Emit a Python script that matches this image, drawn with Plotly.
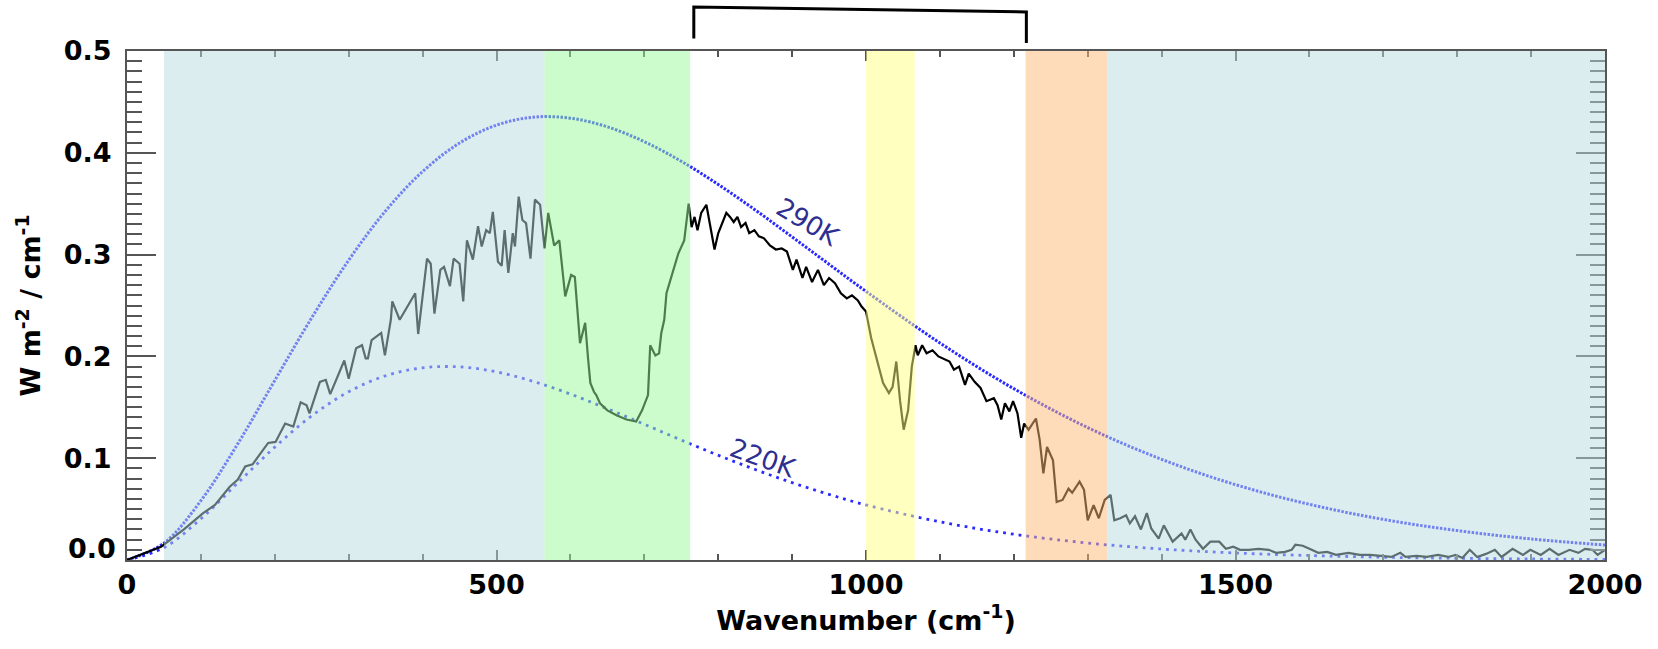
import plotly.graph_objects as go

# ---------------- data ----------------
wavenumber = [0, 46, 77, 103, 119, 139, 150, 160, 170, 181, 191, 201, 214, 225, 235, 243, 247,
              261, 269, 275, 294, 300, 310, 318, 323, 326, 331, 344, 349, 357, 359, 369, 390,
              394, 406, 411, 416, 424, 429, 437, 442, 450, 455, 460, 468, 475, 480, 486, 491,
              495, 502, 507, 511, 516, 522, 525, 530, 535, 540, 546, 552, 559, 565, 570, 578,
              585, 593, 601, 606, 613, 620, 624, 627, 632, 635, 640, 650, 663, 676, 689, 697,
              705, 708, 715, 720, 723, 727, 730, 738, 746, 754, 760, 764, 768, 772, 777, 784,
              787, 795, 800, 811, 816, 821, 826, 831, 837, 842, 849, 855, 862, 870, 878, 886,
              893, 901, 906, 914, 919, 927, 935, 943, 950, 958, 966, 974, 981, 989, 994, 1000,
              1007, 1015, 1023, 1031, 1036, 1041, 1046, 1051, 1057, 1062, 1067, 1070, 1076,
              1082, 1090, 1098, 1106, 1113, 1119, 1126, 1134, 1139, 1147, 1155, 1163, 1173,
              1178, 1183, 1188, 1194, 1199, 1205, 1210, 1214, 1220, 1230, 1235, 1240, 1245,
              1253, 1258, 1266, 1274, 1279, 1289, 1295, 1300, 1308, 1315, 1323, 1331, 1336,
              1344, 1352, 1357, 1364, 1372, 1380, 1386, 1396, 1403, 1415, 1427, 1432, 1439,
              1446, 1456, 1466, 1478, 1487, 1497, 1506, 1518, 1531, 1545, 1555, 1567, 1576,
              1581, 1591, 1603, 1612, 1624, 1636, 1653, 1668, 1682, 1697, 1711, 1723, 1730,
              1745, 1759, 1774, 1788, 1798, 1807, 1817, 1827, 1839, 1851, 1860, 1875, 1889,
              1899, 1913, 1925, 1937, 1952, 1964, 1973, 1983, 1990, 2000]
olr_spectrum = [0.0, 0.013, 0.030, 0.046, 0.054, 0.072, 0.079, 0.092, 0.094, 0.105, 0.115, 0.116,
                0.134, 0.131, 0.155, 0.152, 0.144, 0.175, 0.177, 0.163, 0.196, 0.178, 0.208,
                0.211, 0.198, 0.198, 0.216, 0.223, 0.201, 0.236, 0.254, 0.236, 0.262, 0.222,
                0.296, 0.291, 0.242, 0.285, 0.288, 0.269, 0.296, 0.291, 0.254, 0.314, 0.295,
                0.328, 0.308, 0.324, 0.321, 0.342, 0.293, 0.289, 0.324, 0.282, 0.321, 0.308,
                0.357, 0.334, 0.331, 0.296, 0.354, 0.349, 0.306, 0.341, 0.309, 0.314, 0.259,
                0.280, 0.278, 0.213, 0.233, 0.197, 0.174, 0.165, 0.162, 0.154, 0.147, 0.142,
                0.138, 0.136, 0.147, 0.162, 0.211, 0.201, 0.203, 0.223, 0.236, 0.262, 0.282,
                0.301, 0.314, 0.350, 0.327, 0.337, 0.324, 0.341, 0.349, 0.337, 0.305, 0.321,
                0.341, 0.337, 0.332, 0.337, 0.327, 0.331, 0.321, 0.324, 0.318, 0.316, 0.309,
                0.305, 0.306, 0.303, 0.285, 0.295, 0.277, 0.288, 0.273, 0.285, 0.270, 0.277,
                0.272, 0.262, 0.257, 0.260, 0.255, 0.249, 0.244, 0.218, 0.197, 0.174, 0.164,
                0.170, 0.195, 0.157, 0.128, 0.147, 0.190, 0.211, 0.201, 0.211, 0.203, 0.206,
                0.200, 0.197, 0.195, 0.187, 0.190, 0.172, 0.183, 0.175, 0.169, 0.156, 0.159,
                0.152, 0.138, 0.154, 0.146, 0.156, 0.144, 0.120, 0.134, 0.128, 0.139, 0.118,
                0.085, 0.111, 0.098, 0.057, 0.059, 0.070, 0.066, 0.077, 0.069, 0.039, 0.054,
                0.041, 0.059, 0.064, 0.039, 0.041, 0.044, 0.036, 0.043, 0.030, 0.046, 0.031,
                0.021, 0.034, 0.018, 0.026, 0.020, 0.030, 0.020, 0.011, 0.018, 0.018, 0.011,
                0.013, 0.010, 0.010, 0.011, 0.010, 0.007, 0.008, 0.010, 0.015, 0.014, 0.010,
                0.007, 0.008, 0.005, 0.007, 0.005, 0.005, 0.004, 0.003, 0.007, 0.003, 0.004,
                0.003, 0.005, 0.003, 0.005, 0.002, 0.010, 0.003, 0.006, 0.010, 0.003, 0.011,
                0.005, 0.010, 0.005, 0.011, 0.005, 0.010, 0.007, 0.011, 0.010, 0.005, 0.010]

planck_wn = [0, 50, 100, 150, 200, 250, 300, 350, 400, 450, 500, 550, 600, 650, 700, 750, 800,
             850, 900, 950, 1000, 1100, 1200, 1300, 1400, 1500, 1600, 1700, 1800, 1900, 2000]
planck_290K = [0.0, 0.0166, 0.0583, 0.1143, 0.1764, 0.2380, 0.2945, 0.3430, 0.3816, 0.4096,
               0.4272, 0.4350, 0.4340, 0.4255, 0.4109, 0.3917, 0.3689, 0.3439, 0.3174, 0.2905,
               0.2639, 0.2132, 0.1683, 0.1301, 0.0989, 0.0740, 0.0547, 0.0399, 0.0289, 0.0207,
               0.0147]
planck_220K = [0.0, 0.0121, 0.0405, 0.0758, 0.1109, 0.1416, 0.1653, 0.1810, 0.1888, 0.1897,
               0.1848, 0.1754, 0.1630, 0.1486, 0.1333, 0.1178, 0.1029, 0.0889, 0.0760, 0.0644,
               0.0541, 0.0375, 0.0253, 0.0167, 0.0108, 0.0069, 0.0044, 0.0027, 0.0017, 0.0010,
               0.0006]

band_start = [50, 565, 1000, 1216, 1326]
band_end = [565, 762, 1066, 1326, 2000]
band_color = ["#b9dbe1", "#99f999", "#ffff81", "#fdb973", "#b9dbe1"]

window_edges = [767, 1217]

curve_labels = ["290K", "220K"]
label_wn = [921, 860]
label_val = [0.332, 0.100]
label_angle = [31, 20]

x_tickvals = [0, 500, 1000, 1500, 2000]
y_tickvals = [0.0, 0.1, 0.2, 0.3, 0.4, 0.5]
y_ticktext = ["", "0.1", "0.2", "0.3", "0.4", "0.5"]

# ---------------- figure ----------------
TICKFONT = dict(family="DejaVu Sans", size=27, color="black", weight="bold")
TITLEFONT = dict(family="DejaVu Sans", size=27, color="black", weight="bold")
AXCOL = "#555555"

fig = go.Figure()

fig.add_trace(go.Scatter(x=planck_wn, y=planck_290K, mode="lines", line_shape="spline",
                         line=dict(color="#2a2aff", width=3, dash="2.5px,1.5px"),
                         hoverinfo="skip", showlegend=False))
fig.add_trace(go.Scatter(x=planck_wn, y=planck_220K, mode="lines", line_shape="spline",
                         line=dict(color="#2a2aff", width=2.8, dash="2.8px,5px"),
                         hoverinfo="skip", showlegend=False))
fig.add_trace(go.Scatter(x=wavenumber, y=olr_spectrum, mode="lines",
                         line=dict(color="black", width=2.2),
                         hoverinfo="skip", showlegend=False))

for x0, x1, c in zip(band_start, band_end, band_color):
    fig.add_shape(type="rect", xref="x", yref="paper", x0=x0, x1=x1, y0=0, y1=1,
                  fillcolor=c, opacity=0.5, line=dict(width=0), layer="above")

# bracket above the plot over the atmospheric window
wl, wr = window_edges
fig.add_shape(type="path", xref="x", yref="paper",
              path=f"M{wl},1.0245 L{wl},1.0866 L{wr},1.0768 L{wr},1.0159",
              line=dict(color="black", width=3))

for t, xw, yv, ang in zip(curve_labels, label_wn, label_val, label_angle):
    fig.add_annotation(x=xw, y=yv, xref="x", yref="y", text=t, showarrow=False,
                       textangle=ang,
                       font=dict(family="DejaVu Sans", size=26, color="#2e2e90"))

fig.add_annotation(x=0, y=0, xref="paper", yref="y", text="0.0", showarrow=False,
                   xanchor="right", yanchor="bottom", xshift=-9, yshift=-6,
                   font=TICKFONT)

fig.update_xaxes(range=[0, 2000], tickvals=x_tickvals, ticks="inside", ticklen=10,
                 tickwidth=2, tickcolor=AXCOL, showline=True, linecolor=AXCOL, linewidth=2,
                 mirror="ticks", showgrid=False, zeroline=False, tickfont=TICKFONT,
                 minor=dict(dtick=100, ticks="inside", ticklen=6, tickwidth=1.5,
                            tickcolor=AXCOL, showgrid=False),
                 title=dict(text="Wavenumber (cm<sup>-1</sup>)", standoff=11,
                            font=TITLEFONT))
fig.update_yaxes(range=[0, 0.5], tickvals=y_tickvals, ticktext=y_ticktext, ticks="inside",
                 ticklen=29, tickwidth=2, tickcolor=AXCOL, showline=True, linecolor=AXCOL,
                 linewidth=2, mirror="ticks", showgrid=False, zeroline=False,
                 tickfont=TICKFONT, ticklabelstandoff=8,
                 minor=dict(dtick=0.01, ticks="inside", ticklen=15, tickwidth=1.5,
                            tickcolor=AXCOL, showgrid=False),
                 title=dict(text="W m<sup>-2</sup> / cm<sup>-1</sup>", standoff=15,
                            font=TITLEFONT))

fig.update_layout(width=1658, height=649, plot_bgcolor="white", paper_bgcolor="white",
                  margin=dict(l=126.7, r=52.5, t=50.8, b=89), showlegend=False)

fig.write_html("out.html")
